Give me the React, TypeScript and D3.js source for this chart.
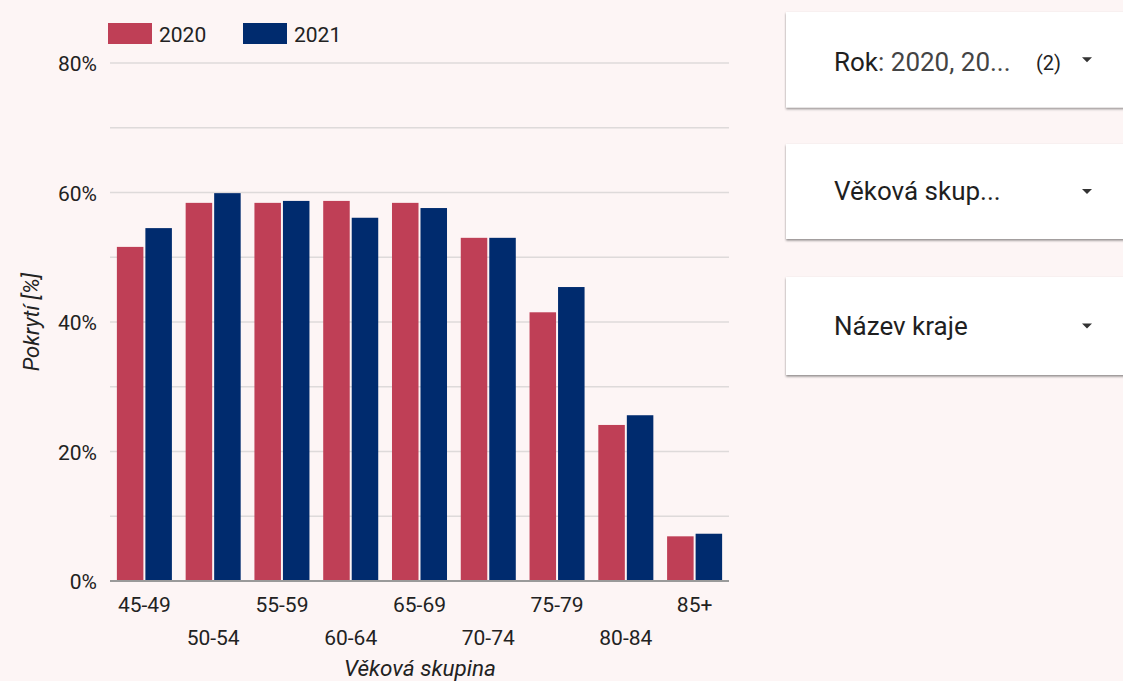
import React from "react";
import * as d3 from "d3";

const categories = ["45-49", "50-54", "55-59", "60-64", "65-69", "70-74", "75-79", "80-84", "85+"];
const seriesNames = ["2020", "2021"];
const values2020 = [51.6, 58.4, 58.4, 58.7, 58.4, 53.0, 41.5, 24.1, 6.9];
const values2021 = [54.5, 59.9, 58.7, 56.1, 57.6, 53.0, 45.4, 25.6, 7.3];
const yTicks = [0, 20, 40, 60, 80];
const gridTicks = [10, 20, 30, 40, 50, 60, 70, 80];
const colors = ["#bf3f56", "#002b6e"];

const filters = [
  { label: "Rok", value: ": 2020, 20...", count: "(2)" },
  { label: "Věková skup...", value: "", count: "" },
  { label: "Název kraje", value: "", count: "" },
];

const W = 1123;
const H = 681;
const plotLeft = 110;
const plotRight = 729;
const plotTop = 63;
const plotBottom = 581;

export default function App() {
  const x0 = d3.scaleBand<string>().domain(categories).range([plotLeft, plotRight]).paddingInner(0.2).paddingOuter(0.1);
  const x1 = d3.scaleBand<string>().domain(seriesNames).range([0, x0.bandwidth()]).paddingInner(0.07);
  const y = d3.scaleLinear().domain([0, 80]).range([plotBottom, plotTop]);
  const data = [values2020, values2021];
  const font = "Roboto, sans-serif";

  const boxTops = [12, 144, 277];
  const boxBottoms = [107.5, 239, 375];
  const baselines = [71, 200, 335];

  return (
    <svg width={W} height={H} style={{ position: "absolute", left: 0, top: 0 }} fontFamily={font}>
      <defs>
        <filter id="sh" x="-5%" y="-10%" width="110%" height="130%">
          <feDropShadow dx="0" dy="1.5" stdDeviation="1.2" floodColor="#000" floodOpacity="0.45" />
        </filter>
      </defs>
      <rect x={0} y={0} width={W} height={H} fill="#fdf5f5" />

      {/* gridlines */}
      {gridTicks.map((t) => (
        <line key={t} x1={plotLeft} x2={plotRight} y1={y(t)} y2={y(t)} stroke="#dedada" strokeWidth={1.5} />
      ))}

      {/* bars */}
      {categories.map((c, i) => (
        <g key={c} transform={`translate(${x0(c)},0)`}>
          {seriesNames.map((s, j) => (
            <rect
              key={s}
              x={x1(s)}
              y={y(data[j][i])}
              width={x1.bandwidth()}
              height={y(0) - y(data[j][i])}
              fill={colors[j]}
            />
          ))}
        </g>
      ))}

      {/* baseline */}
      <line x1={plotLeft} x2={plotRight} y1={plotBottom} y2={plotBottom} stroke="#9a9a9a" strokeWidth={2} />

      {/* y tick labels */}
      {yTicks.map((t) => (
        <text key={t} x={97} y={y(t) + 8} textAnchor="end" fontSize={21} fill="#222">
          {t}%
        </text>
      ))}

      {/* x tick labels */}
      {categories.map((c, i) => (
        <text
          key={c}
          x={(x0(c) as number) + x0.bandwidth() / 2}
          y={i % 2 === 0 ? 612 : 645}
          textAnchor="middle"
          fontSize={21}
          fill="#222"
        >
          {c}
        </text>
      ))}

      {/* axis titles */}
      <text x={420} y={676} textAnchor="middle" fontSize={22.5} fontStyle="italic" fill="#222">
        Věková skupina
      </text>
      <text
        transform={`translate(39,${(plotTop + plotBottom) / 2}) rotate(-90)`}
        textAnchor="middle"
        fontSize={22}
        fontStyle="italic"
        fill="#222"
      >
        Pokrytí [%]
      </text>

      {/* legend */}
      {seriesNames.map((s, j) => (
        <g key={s} transform={`translate(${108 + j * 135},0)`}>
          <rect x={0} y={23} width={44} height={21} fill={colors[j]} />
          <text x={51} y={42} fontSize={21} fill="#222">
            {s}
          </text>
        </g>
      ))}

      {/* filter controls */}
      {filters.map((f, i) => (
        <g key={f.label}>
          <rect x={786} y={boxTops[i]} width={W - 786 + 10} height={boxBottoms[i] - boxTops[i]} fill="#fff" filter="url(#sh)" />
          <text x={834} y={baselines[i]} fontSize={26} fill="#1f1f1f">
            {f.label}
            {f.value && <tspan fill="#444">{f.value}</tspan>}
          </text>
          {f.count && (
            <text x={1036} y={baselines[i] - 1} fontSize={20} fill="#222">
              {f.count}
            </text>
          )}
          <path
            d={`M1082,${(boxTops[i] + boxBottoms[i]) / 2 - 2.5} l10,0 l-5,5 z`}
            fill="#333"
          />
        </g>
      ))}
    </svg>
  );
}
